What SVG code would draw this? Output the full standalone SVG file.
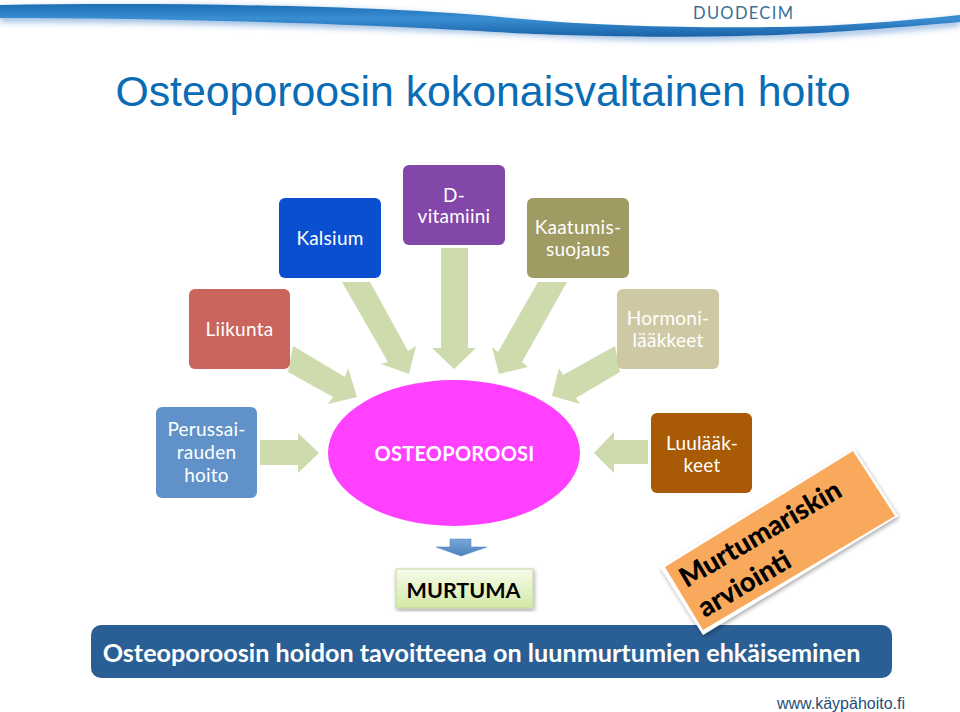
<svg xmlns="http://www.w3.org/2000/svg" width="960" height="712" viewBox="0 0 960 712">
<style>
text{font-family:Lato,"Open Sans",sans-serif;text-anchor:middle}
.b{font-size:19px;fill:#fff;letter-spacing:.25px}
.a{fill:#cedcad}
.d{font-weight:700}
.o{font-size:27.500px;font-weight:900;fill:#000}
</style>
<defs>
<linearGradient id="sw" x1="0" y1="0" x2="0" y2="1"><stop offset="0" stop-color="#1d6fb5"/><stop offset=".45" stop-color="#3a8ed2"/><stop offset="1" stop-color="#1a62a8"/></linearGradient>
<linearGradient id="g" x1="0" y1="0" x2="0" y2="1"><stop offset="0" stop-color="#f6fbe9"/><stop offset="1" stop-color="#d3e9a8"/></linearGradient>
<linearGradient id="sa" x1="0" y1="0" x2="0" y2="1"><stop offset="0" stop-color="#79a7d8"/><stop offset="1" stop-color="#4b82bf"/></linearGradient>
<filter id="bl" x="-5%" y="-100%" width="110%" height="300%"><feGaussianBlur stdDeviation="3"/></filter>
<filter id="sh" x="-10%" y="-10%" width="120%" height="120%"><feDropShadow dx="1" dy="2" stdDeviation="2" flood-color="#000" flood-opacity=".35"/></filter>
</defs>
<rect width="960" height="712" fill="#fff"/>
<path d="M0 8C200 2 420 8 560 26C680 36 820 34 960 18V26C820 40 680 44 560 37C420 30 200 22 0 22Z" fill="#5d93cf" opacity=".6" filter="url(#bl)"/>
<path d="M0 5C180 2 380 6 500 17C600 27 700 28 780 27C850 26 910 20 960 15V22C900 27 830 34 740 36C640 38 540 35 480 31C340 23 160 18 0 18Z" fill="url(#sw)"/>
<text x="743" y="18.500" font-size="16.500" fill="#3a6f96" textLength="100">DUODECIM</text>
<text x="483" y="106" font-size="42.800" fill="#0a6cb5" style="font-family:'Liberation Sans',sans-serif">Osteoporoosin kokonaisvaltainen hoito</text>
<g id="connectors">
<polygon class="a" points="260,440 298,440 298,433 319,453 298,473 298,465 260,465"/>
<polygon class="a" points="293,346 345,377 348,368 357,397 328,404 333,397 288,372"/>
<polygon class="a" points="342,282 370,282 408,351 416,346 409,374 381,364 388,362"/>
<polygon class="a" points="441,248 468,248 468,348 476,348 454,369 432,348 441,348"/>
<polygon class="a" points="538,282 567,282 522,362 528,367 499,374 492,347 498,352"/>
<polygon class="a" points="615,346 620,372 576,398 580,404 552,396 559,368 563,375"/>
<polygon class="a" points="648,440 614,440 614,432 594,453 614,473 614,464 648,464"/>
<path d="M450 539H471V547H487L461 556L436 547H450Z" fill="url(#sa)" stroke="#4a7ebb" stroke-width=".5"/>
</g>
<g id="kalsium"><rect x="279" y="198" width="102" height="80" rx="6" fill="#0a4fd0"/><text class="b" x="330" y="245">Kalsium</text></g>
<g id="dvitamiini"><rect x="403" y="165" width="102" height="80" rx="6" fill="#8247a8"/><text class="b" x="454" y="202">D-</text><text class="b" x="454" y="223">vitamiini</text></g>
<g id="kaatumis"><rect x="527" y="198" width="102" height="80" rx="6" fill="#a09a63"/><text class="b" x="578" y="234">Kaatumis-</text><text class="b" x="578" y="256">suojaus</text></g>
<g id="liikunta"><rect x="189" y="289" width="101" height="80" rx="6" fill="#c9655c"/><text class="b" x="239.500" y="336">Liikunta</text></g>
<g id="hormoni"><rect x="617" y="289" width="102" height="80" rx="6" fill="#cfc8a5"/><text class="b" x="668" y="325">Hormoni-</text><text class="b" x="668" y="347">lääkkeet</text></g>
<g id="perussai"><rect x="156" y="407" width="101" height="91" rx="6" fill="#6092c9"/><text class="b" x="206.500" y="436">Perussai-</text><text class="b" x="206.500" y="459">rauden</text><text class="b" x="206.500" y="482">hoito</text></g>
<g id="luulaak"><rect x="651" y="413" width="101" height="80" rx="6" fill="#a85a04"/><text class="b" x="702" y="450">Luulääk-</text><text class="b" x="702" y="472">keet</text></g>
<g id="osteoporoosi"><ellipse cx="454" cy="453" rx="126" ry="73" fill="#ff40ff"/><text class="b d" x="454.500" y="461" style="font-size:20px">OSTEOPOROOSI</text></g>
<g id="murtuma"><rect x="396" y="569" width="137" height="39" fill="url(#g)" stroke="#c4d79b" filter="url(#sh)"/><text class="d" x="463.500" y="598" font-size="21.500" fill="#000">MURTUMA</text></g>
<g id="tavoite"><rect x="91" y="625" width="801" height="53" rx="10" fill="#2a5f96"/><text class="d" x="481.500" y="662" font-size="25.200" fill="#fff">Osteoporoosin hoidon tavoitteena on luunmurtumien ehkäiseminen</text></g>
<g id="arviointi"><polygon points="854,449 898,516 703,635 660,567" fill="#fff" filter="url(#sh)"/><polygon points="853,451 895,516 703,630 665,567" fill="#f9a95b"/>
<text class="o" transform="translate(765,542) rotate(-30.500)">Murtumariskin</text><text class="o" transform="translate(749,592) rotate(-30.500)">arviointi</text></g>
<text x="841" y="709" font-size="16" fill="#1f4e79" style="font-family:'Liberation Sans',sans-serif">www.käypähoito.fi</text>
</svg>
